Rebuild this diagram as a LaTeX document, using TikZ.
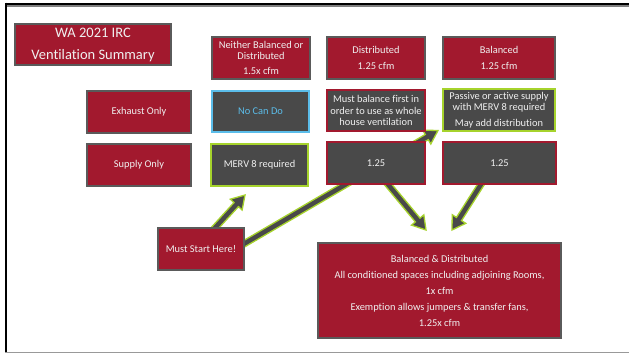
\documentclass[tikz,border=0pt]{standalone}
\usepackage{fontspec}
\setmainfont{Carlito}[Ligatures=NoCommon]
\usetikzlibrary{calc,backgrounds}
\definecolor{boxred}{HTML}{A2192E}
\definecolor{boxdark}{HTML}{494949}
\definecolor{rimgray}{HTML}{5A5A5A}
\definecolor{rimgreen}{HTML}{A6D32C}
\definecolor{rimcyan}{HTML}{5BBDEA}
\definecolor{txtlight}{HTML}{F0F0F0}
\tikzset{
  cell/.style={minimum width=#1, inner sep=0pt, outer sep=0pt, line width=1.6pt,
    align=center, text=txtlight, font=\fontsize{10.4}{11.5}\selectfont},
  redcell/.style={cell=#1, fill=boxred, draw=rimgray},
  darkcell/.style={cell=#1, fill=boxdark},
  fatarrow/.style={fill=boxdark, draw=rimgreen, line width=1.3pt, line join=miter}
}
% thick block arrow from tail #1 to tip #2
\newcommand\fatarrow[2]{%
  \path[fatarrow]
    ($#1!3pt!90:#2$) -- ($($#2!13pt!#1$)!3pt!90:#2$) -- ($($#2!13pt!#1$)!8pt!90:#2$)
    -- #2 -- ($($#2!13pt!#1$)!8pt!-90:#2$) -- ($($#2!13pt!#1$)!3pt!-90:#2$)
    -- ($#1!3pt!-90:#2$) -- cycle;}
\begin{document}
\begin{tikzpicture}[x=1pt,y=-1pt]
  \useasboundingbox (0,0) rectangle (629,354);

  % title
  \node[redcell=156pt, minimum height=41pt, font=\fontsize{14.5}{22}\selectfont] (title) at (93,44.5)
    {WA 2021 IRC\\Ventilation Summary};

  % column headers
  \node[redcell=98pt, minimum height=42pt] (neither) at (261,58)
    {Neither Balanced or\\Distributed\\[3.5pt]1.5x cfm};
  \node[redcell=98pt, minimum height=42pt, font=\fontsize{10.4}{16}\selectfont] (dist) at (376,58)
    {Distributed\\1.25 cfm};
  \node[redcell=112pt, minimum height=42pt, font=\fontsize{10.4}{16}\selectfont] (bal) at (499,58)
    {Balanced\\1.25 cfm};

  % row headers
  \node[redcell=104pt, minimum height=42pt] (exh) at (139,112) {Exhaust Only};
  \node[redcell=104pt, minimum height=42pt] (sup) at (139,165) {Supply Only};

  % exhaust row
  \node[darkcell=97pt, minimum height=41pt, draw=rimcyan, text=rimcyan] (nocan) at (260.5,111.5) {No Can Do};
  \node[darkcell=98pt, minimum height=41pt, draw=boxred] (mustbal) at (376,110.5)
    {Must balance first in\\order to use as whole\\house ventilation};
  \node[darkcell=112pt, minimum height=42pt, draw=rimgreen] (passive) at (499,110)
    {Passive or active supply\\with MERV 8 required\\[4.5pt]May add distribution};

  % supply row
  \node[darkcell=97pt, minimum height=42pt, draw=rimgreen] (merv) at (259.5,165) {MERV 8 required};
  \node[darkcell=98pt, minimum height=42pt, draw=boxred] (d125) at (376,163) {1.25};
  \node[darkcell=113pt, minimum height=42pt, draw=boxred] (b125) at (499.5,163) {1.25};

  % start and goal
  \node[redcell=86pt, minimum height=42pt] (start) at (201,249) {Must Start Here!};
  \node[redcell=243pt, minimum height=95pt, font=\fontsize{10.4}{16}\selectfont] (goal) at (439.5,290.5)
    {Balanced \& Distributed\\All conditioned spaces including adjoining Rooms,\\1x cfm\\
     Exemption allows jumpers \& transfer fans,\\1.25x cfm};

  % arrow ends
  \coordinate (t1) at ($(start.north)+(12,2)$);
  \coordinate (h1) at (245,195);
  \coordinate (t2) at ($(start.east)+(-2,-4)$);
  \coordinate (h2) at (438,130.5);
  \coordinate (t3) at ($(d125.south)+(10,-2)$);
  \coordinate (h3) at (426,230);
  \coordinate (t4) at ($(b125.south)+(-17,-2)$);
  \coordinate (h4) at (452,230);

  \begin{pgfonlayer}{background}
    \fill[white] (0,0) rectangle (629,354);
    % slide frame
    \draw[black, line width=2pt] (5,3.5) -- (629,3.5);
    \draw[gray, line width=2pt] (6.5,5.5) -- (629,5.5);
    \draw[black, line width=2pt] (5.5,2.5) -- (5.5,353);
    \draw[gray!80, line width=1pt] (5,352.5) -- (629,352.5);
    % arrows
    \fatarrow{(t1)}{(h1)}
    \fatarrow{(t2)}{(h2)}
    \fatarrow{(t3)}{(h3)}
    \fatarrow{(t4)}{(h4)}
  \end{pgfonlayer}
\end{tikzpicture}
\end{document}
